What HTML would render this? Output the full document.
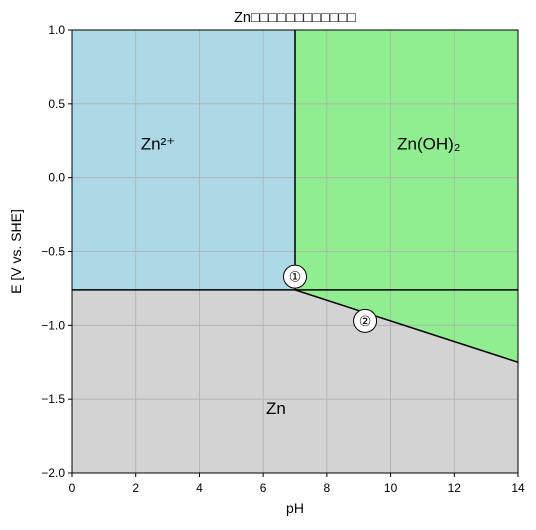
<!DOCTYPE html>
<html><head><meta charset="utf-8"><style>
body{margin:0;background:#fff}
text{font-family:"Liberation Sans","DejaVu Sans",sans-serif}
</style></head><body>
<svg id="c" width="536" height="525" xmlns="http://www.w3.org/2000/svg">
<g id="plot"></g>
</svg>
<script>
const xTicks=[0,2,4,6,8,10,12,14];
const yTicks=[1.0,0.5,0.0,-0.5,-1.0,-1.5,-2.0];
const yTickLabels=["1.0","0.5","0.0","\u22120.5","\u22121.0","\u22121.5","\u22122.0"];
const eZn=[-0.76];
const pHHydrox=[7];
const slopeLineX=[7,14];
const slopeLineY=[-0.76,-1.25];
const markerX=[7,9.2];
const markerY=[-0.67,-0.97];
const markerLabels=["\u2460","\u2461"];
const regionLabels=["Zn\u00b2\u207a","Zn(OH)\u2082","Zn"];
const regionX=[2.7,11.2,6.4];
const regionY=[0.23,0.23,-1.56];
const L=72,R=518,T=30,B=473;
const sx=v=>L+(v-0)/(14-0)*(R-L);
const sy=v=>T+(1-v)/(1-(-2))*(B-T);
const svg=document.getElementById('c');
const ns="http://www.w3.org/2000/svg";
function mk(tag,at,parent){const e=document.createElementNS(ns,tag);for(const k in at)e.setAttribute(k,at[k]);(parent||svg).appendChild(e);return e;}
const e=eZn[0],p=pHHydrox[0];
let r=mk('rect',{x:L,y:T,width:sx(p)-L,height:sy(e)-T,fill:'#add8e6'});


r=mk('polygon',{points:`${sx(p)},${T} ${R},${T} ${R},${sy(slopeLineY[1])} ${sx(slopeLineX[0])},${sy(slopeLineY[0])}`,fill:'#90ee90'});


r=mk('polygon',{points:`${L},${sy(e)} ${sx(slopeLineX[0])},${sy(slopeLineY[0])} ${R},${sy(slopeLineY[1])} ${R},${B} ${L},${B}`,fill:'#d3d3d3'});


// grid
xTicks.forEach(t=>{const g=mk('line',{x1:sx(t),x2:sx(t),y1:T,y2:B,stroke:'#b0b0b0','stroke-width':0.8});

});
yTicks.forEach(t=>{const g=mk('line',{x1:L,x2:R,y1:sy(t),y2:sy(t),stroke:'#b0b0b0','stroke-width':0.8});

});
// boundaries
let l=mk('line',{x1:L,x2:R,y1:sy(e),y2:sy(e),stroke:'#000','stroke-width':1.5});


l=mk('line',{x1:sx(p),x2:sx(p),y1:T,y2:sy(e),stroke:'#000','stroke-width':1.5});


l=mk('line',{x1:sx(slopeLineX[0]),x2:sx(slopeLineX[1]),y1:sy(slopeLineY[0]),y2:sy(slopeLineY[1]),stroke:'#000','stroke-width':1.5});


// frame
l=mk('rect',{x:L,y:T,width:R-L,height:B-T,fill:'none',stroke:'#000','stroke-width':1});


// markers
markerX.forEach((x,i)=>{const c=mk('circle',{cx:sx(x),cy:sy(markerY[i]),r:11.5,fill:'#fff',stroke:'#000','stroke-width':1});


const t=mk('text',{x:sx(x),y:sy(markerY[i])+5,'text-anchor':'middle','font-size':14});t.textContent=markerLabels[i];

});
regionLabels.forEach((s,i)=>{const t=mk('text',{x:sx(regionX[i]),y:sy(regionY[i])+6,'text-anchor':'middle','font-size':17});t.textContent=s;

});
// ticks
xTicks.forEach(t=>{mk('line',{x1:sx(t),x2:sx(t),y1:B,y2:B+4,stroke:'#000'});
const tx=mk('text',{x:sx(t),y:B+19,'text-anchor':'middle','font-size':12});tx.textContent=t;

});
yTicks.forEach((t,i)=>{mk('line',{x1:L-4,x2:L,y1:sy(t),y2:sy(t),stroke:'#000'});
const tx=mk('text',{x:L-7,y:sy(t)+4,'text-anchor':'end','font-size':12});tx.textContent=yTickLabels[i];

});
let t=mk('text',{x:(L+R)/2,y:513,'text-anchor':'middle','font-size':14});t.textContent='pH';


t=mk('text',{x:0,y:0,'text-anchor':'middle','font-size':14,transform:`translate(21,${(T+B)/2}) rotate(-90)`});t.textContent='E [V vs. SHE]';


t=mk('text',{x:(L+R)/2,y:22,'text-anchor':'middle','font-size':14.5});t.textContent='Zn\u25a1\u25a1\u25a1\u25a1\u25a1\u25a1\u25a1\u25a1\u25a1\u25a1\u25a1\u25a1';


</script>
</body></html>
